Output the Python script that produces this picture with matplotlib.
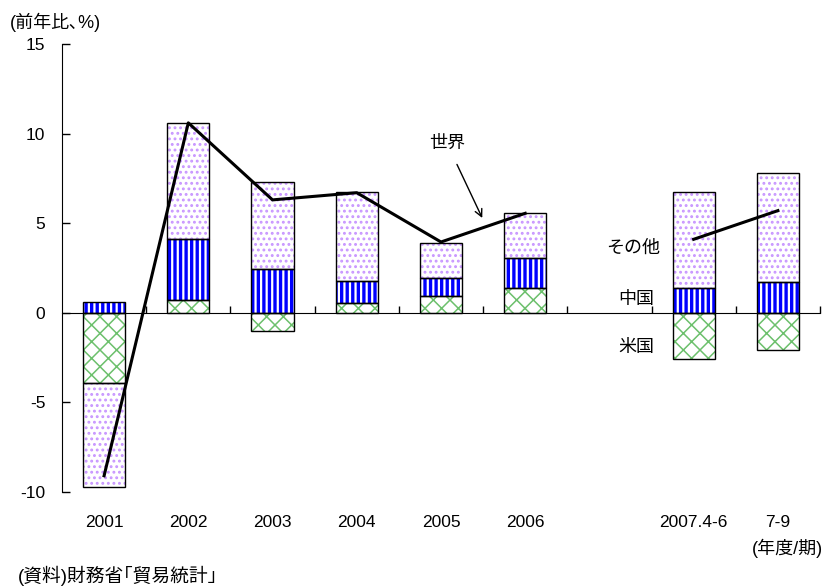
import numpy as np
import matplotlib.pyplot as plt
from matplotlib.transforms import blended_transform_factory

plt.rcParams['font.family'] = ['Liberation Sans', 'Noto Sans CJK JP']

# categories (blank slot between 2006 and 2007)
labels = ["2001", "2002", "2003", "2004", "2005", "2006", "", "2007.4-6", "7-9"]
x = np.array([0, 1, 2, 3, 4, 5, 7, 8])

# contributions to export growth (%)
us = np.array([-3.9, 0.7, -1.0, 0.55, 0.95, 1.4, -2.6, -2.1])
china = np.array([0.6, 3.4, 2.45, 1.2, 1.0, 1.65, 1.4, 1.7])
other = np.array([-5.8, 6.5, 4.85, 5.0, 1.95, 2.5, 5.35, 6.1])
world = np.array([-9.1, 10.6, 6.3, 6.7, 3.95, 5.55, 4.1, 5.7])

fig = plt.figure(figsize=(8.33, 5.87), dpi=100)
ax = fig.add_axes([0.0744, 0.162, 0.91, 0.763])

w = 0.5

# stack: positives go up from 0, negatives go down from 0
pos_base = np.zeros(len(x))
neg_base = np.zeros(len(x))

def stack(vals, hatch, hcolor, hlw):
    bottoms = np.where(vals >= 0, pos_base, neg_base)
    with plt.rc_context({'hatch.linewidth': hlw}):
        ax.bar(x, vals, w, bottom=bottoms, color="white", edgecolor=hcolor,
               hatch=hatch, linewidth=0, zorder=2)
    ax.bar(x, vals, w, bottom=bottoms, fill=False, edgecolor="black",
           linewidth=1.0, zorder=3)
    pos_base[:] = np.where(vals >= 0, pos_base + vals, pos_base)
    neg_base[:] = np.where(vals < 0, neg_base + vals, neg_base)

stack(us, "xx", "#6cc06c", 1.1)
stack(china, "|||", "#0000ff", 2.4)
stack(other, "...", "#c896ff", 1.3)

# world line, broken between annual and quarterly
ax.plot(x[:6], world[:6], color="black", lw=2.2, zorder=4)
ax.plot(x[6:], world[6:], color="black", lw=2.2, zorder=4)

ax.set_xlim(-0.5, 8.5)
ax.set_ylim(-10, 15)
ax.set_yticks([-10, -5, 0, 5, 10, 15])
ax.set_yticklabels(["-10", "-5", "0", "5", "10", "15"], fontsize=12.5)
ax.tick_params(axis="y", direction="in", length=6, pad=12, width=1)

ax.spines["top"].set_visible(False)
ax.spines["right"].set_visible(False)
ax.spines["bottom"].set_position(("data", 0))
ax.spines["bottom"].set_zorder(5)
ax.set_xticks(np.arange(0.5, 9.0, 1.0))
ax.set_xticklabels([])
ax.tick_params(axis="x", direction="in", length=5, width=1)

trans = blended_transform_factory(ax.transData, ax.transAxes)
for i, lab in enumerate(labels):
    ax.text(i, -0.068, lab, transform=trans, ha="center", va="center",
            fontsize=12.5)

ax.text(1.004, -0.125, "(年度/期)", transform=ax.transAxes, ha="right",
        va="center", fontsize=13)
fig.text(0.022, 0.019, "(資料)財務省｢貿易統計｣", ha="left", va="center",
         fontsize=13.5)
fig.text(0.012, 0.962, "(前年比､%)", ha="left", va="center", fontsize=13)

ax.annotate("世界", xy=(4.49, 5.29), xytext=(4.07, 9.47), ha="center",
            va="center", fontsize=13,
            arrowprops=dict(arrowstyle="->", color="black", lw=1,
                            shrinkA=8, shrinkB=0))
ax.text(6.28, 3.62, "その他", ha="center", va="center", fontsize=13)
ax.text(6.32, 0.72, "中国", ha="center", va="center", fontsize=13)
ax.text(6.32, -1.95, "米国", ha="center", va="center", fontsize=13)

fig.savefig("out.png", dpi=100)
